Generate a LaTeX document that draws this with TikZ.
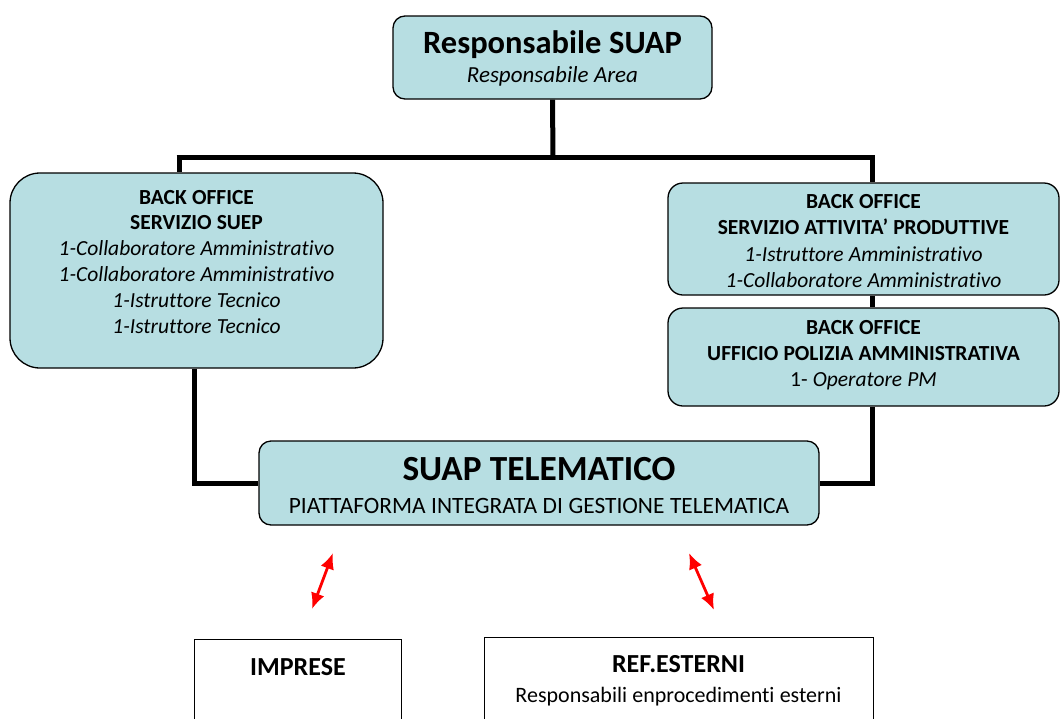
\documentclass[tikz,border=0pt]{standalone}
\usepackage{fontspec}
\setmainfont{Carlito}[Ligatures=NoCommon]
\usetikzlibrary{arrows.meta,positioning}
\pgfdeclarelayer{background}
\pgfsetlayers{background,main}
\definecolor{azzurro}{RGB}{183,222,226}
\definecolor{rosso}{RGB}{255,0,0}
\newcommand\corpo[2]{\fontsize{#1}{#2}\selectfont\spaceskip=.24em\relax}

\tikzset{
  ufficio/.style={draw=black, line width=1.3pt, fill=azzurro, rounded corners=12pt,
                  align=center, inner sep=0pt, anchor=base},
  esterno/.style={draw=black, line width=1pt, fill=white, align=center,
                  anchor=base, inner sep=0pt},
  linea/.style={line width=5pt},
  doppia/.style={rosso, line width=2.8pt,
                 {Latex[length=16pt,width=14pt]}-{Latex[length=16pt,width=14pt]}}
}

\begin{document}
\begin{tikzpicture}[x=1pt,y=-1pt]
    \useasboundingbox (0,0) rectangle (1060,718);
    \clip (0,0) rectangle (1060,718);
    % responsabile
    \node[ufficio, text width=319pt, text height=37pt, text depth=46pt](resp) at (552.5,53)
        {\corpo{32.5}{30}\bfseries Responsabile SUAP\\
         \corpo{23}{29}\mdseries\itshape Responsabile Area\par};
    % back office
    \node[ufficio, rounded corners=30pt, text width=373pt, text height=31pt, text depth=164pt](suep) at (196.5,204)
        {\corpo{21.5}{25.9}\textbf{BACK OFFICE}\\
         \textbf{SERVIZIO SUEP}\\
         \textit{1-Collaboratore Amministrativo}\\
         \textit{1-Collaboratore Amministrativo}\\
         \textit{1-Istruttore Tecnico}\\
         \textit{1-Istruttore Tecnico}\par};
    \node[ufficio, rounded corners=15pt, text width=391pt, text height=25pt, text depth=87pt](attiv) at (863.5,208)
        {\corpo{21.5}{26.5}\textbf{BACK OFFICE}\\
         \textbf{SERVIZIO ATTIVITA’ PRODUTTIVE}\\
         \textit{1-Istruttore Amministrativo}\\
         \textit{1-Collaboratore Amministrativo}\par};
    \node[ufficio, rounded corners=15pt, text width=391pt, text height=26pt, text depth=72pt](polizia) at (863.5,334)
        {\corpo{21.5}{26}\textbf{BACK OFFICE}\\
         \textbf{UFFICIO POLIZIA AMMINISTRATIVA}\\
         1- \textit{Operatore PM}\par};
    % piattaforma
    \node[ufficio, text width=560pt, text height=39pt, text depth=45pt](suap) at (539,480)
        {\corpo{35.3}{33}\bfseries SUAP TELEMATICO\\
         \corpo{23.4}{33}\mdseries PIATTAFORMA INTEGRATA DI GESTIONE TELEMATICA\par};
    % soggetti esterni
    \node[esterno, text width=207pt, text height=36pt, text depth=100pt](imprese) at (298,675)
        {\corpo{26}{30}\bfseries IMPRESE\par};
    \node[esterno, text width=389pt, text height=35pt, text depth=100pt](refest) at (678.5,672)
        {\corpo{26}{30}\textbf{REF.ESTERNI}\\
         \corpo{22}{30}Responsabili enprocedimenti esterni\par};

    \coordinate (bus) at (553,157);
    \coordinate (busL) at (179,157);
    \coordinate (busR) at (872,157);
    \begin{pgfonlayer}{background}
        \draw[linea] (resp.south) -- (bus);
        \draw[linea] ([xshift=-2.5pt]busL) -- ([xshift=2.5pt]busR);
        \draw[linea] (busL) -- (busL |- suep.north);
        \draw[linea] (busR) -- (busR |- attiv.north);
        \draw[linea] (busR |- attiv.south) -- (busR |- polizia.north);
        \draw[linea] ([xshift=-2.5pt]suep.south) |- (suap.west);
        \draw[linea] (busR |- polizia.south) |- (suap.east);
    \end{pgfonlayer}

    % frecce
    \coordinate (fA1) at (333,553);
    \coordinate (fA2) at (312,609);
    \coordinate (fB1) at (689,553);
    \coordinate (fB2) at (714,610);
    \draw[doppia] (fA1) -- (fA2);
    \draw[doppia] (fB1) -- (fB2);
\end{tikzpicture}
\end{document}
